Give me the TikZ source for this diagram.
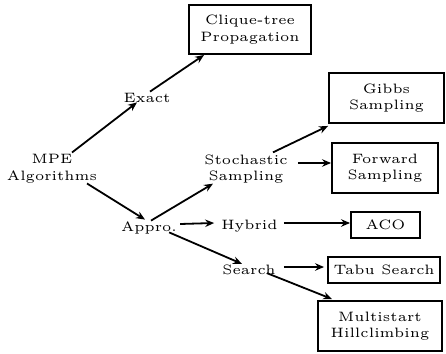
\documentclass[tikz,border=0pt]{standalone}
\usepackage{fontspec}
\newfontfamily\lmfive{lmroman5-regular.otf}
\usetikzlibrary{arrows.meta}
\begin{document}
\begin{tikzpicture}[x=1pt,y=-1pt,
  txt/.style={inner sep=0pt,align=center,font=\lmfive\fontsize{13.6}{16.5}\selectfont},
  box/.style={txt,draw,line width=1.9pt},
  arr/.style={line width=1.8pt,-{Stealth[length=9pt,width=7.5pt,inset=3pt]}}]
\useasboundingbox (0,0) rectangle (446,353);
\node[txt] (mpe) at (52,169) {MPE\\Algorithms};
\node[txt] (exact) at (147,97.5) {Exact};
\node[txt] (stoch) at (246,169) {Stochastic\\Sampling};
\node[txt] (appro) at (149,228) {Appro.};
\node[txt] (hybrid) at (249.5,226) {Hybrid};
\node[txt] (search) at (249,270) {Search};
\node[box,minimum width=122pt,minimum height=49pt] (clique) at (250,29.5) {Clique-tree\\Propagation};
\node[box,minimum width=115pt,minimum height=50pt] (gibbs) at (386.5,98) {Gibbs\\Sampling};
\node[box,minimum width=106pt,minimum height=50pt] (forward) at (385,168) {Forward\\Sampling};
\node[box,minimum width=69pt,minimum height=26pt] (aco) at (385.5,225) {ACO};
\node[box,minimum width=112pt,minimum height=26pt] (tabu) at (384,270) {Tabu Search};
\node[box,minimum width=124pt,minimum height=50pt] (multi) at (380,326) {Multistart\\Hillclimbing};
\draw[arr] ([xshift=20pt,yshift=2pt]mpe.north) -- ([xshift=-10pt]exact.south);
\draw[arr] ([xshift=3pt,yshift=1pt]exact.north) -- ([xshift=16pt]clique.south west);
\draw[arr] ([xshift=35pt]mpe.south) -- ([xshift=-4pt,yshift=2pt]appro.north);
\draw[arr] ([xshift=2pt,yshift=1pt]appro.north) -- ([xshift=-33pt]stoch.south);
\draw[arr] ([xshift=27pt,yshift=2pt]stoch.north) -- ([yshift=-2pt]gibbs.south west);
\draw[arr] ([xshift=10pt,yshift=6pt]stoch.east) -- ([yshift=5pt]forward.west);
\draw[arr] ([xshift=3pt,yshift=4pt]appro.east) -- ([xshift=-7pt,yshift=3pt]hybrid.west);
\draw[arr] ([xshift=6pt,yshift=3pt]hybrid.east) -- ([yshift=2pt]aco.west);
\draw[arr] ([xshift=-8pt,yshift=2pt]appro.south east) -- ([xshift=-7pt,yshift=1pt]search.north);
\draw[arr] ([xshift=8pt,yshift=3pt]search.east) -- ([xshift=-3pt,yshift=3pt]tabu.west);
\draw[arr] ([xshift=18pt,yshift=2pt]search.south) -- ([xshift=15pt,yshift=1pt]multi.north west);
\end{tikzpicture}
\end{document}
